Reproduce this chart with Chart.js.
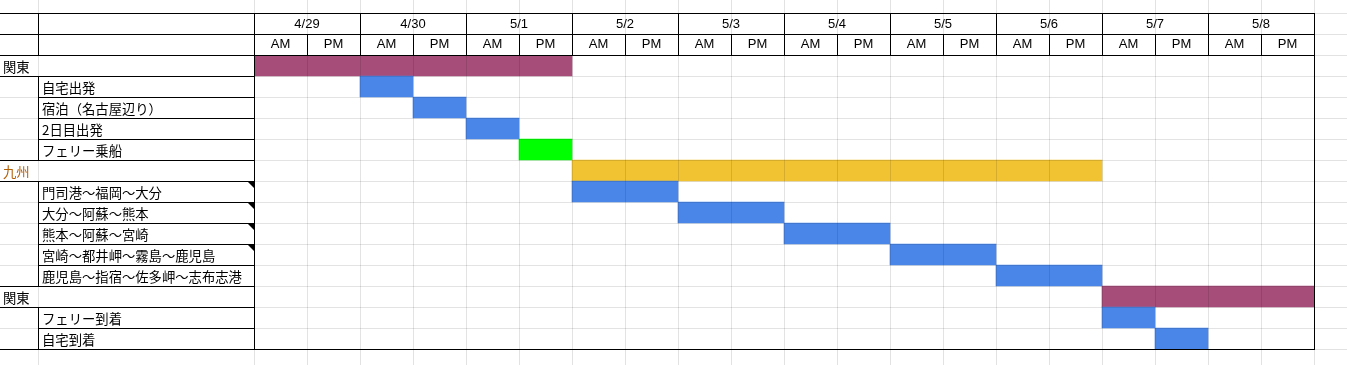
<!DOCTYPE html>
<html>
<head>
<meta charset="utf-8">
<script src="https://cdn.jsdelivr.net/npm/chart.js@4"></script>
<style>
  html, body { margin: 0; padding: 0; background: #fff; }
  #wrap { width: 1347px; height: 365px; position: relative; }
</style>
</head>
<body>
<div id="wrap"><canvas id="gantt"></canvas></div>
<script>
// 日付と午前/午後
const days   = ['4/29', '4/30', '5/1', '5/2', '5/3', '5/4', '5/5', '5/6', '5/7', '5/8'];
const halves = ['AM', 'PM'];

// 行ごとの地域・予定
const groups = ['関東', '', '', '', '', '九州', '', '', '', '', '', '関東', '', ''];
const tasks  = ['', '自宅出発', '宿泊（名古屋辺り）', '2日目出発', 'フェリー乗船', '',
                '門司港～福岡～大分', '大分～阿蘇～熊本', '熊本～阿蘇～宮崎', '宮崎～都井岬～霧島～鹿児島',
                '鹿児島～指宿～佐多岬～志布志港', '', 'フェリー到着', '自宅到着'];
const kinds  = ['kanto', 'task', 'task', 'task', 'ferry', 'kyushu',
                'task', 'task', 'task', 'task', 'task', 'kanto', 'task', 'task'];
// 半日単位 (0 = 4/29 AM)
const starts = [0, 2, 3, 4, 5, 6, 6, 8, 10, 12, 14, 16, 16, 17];
const ends   = [6, 3, 4, 5, 6, 16, 8, 10, 12, 14, 16, 20, 17, 18];
// コメント付きのセル
const notes  = [false, false, false, false, false, false, true, true, true, true, false, false, false, false];

const kindColor  = { kanto: '#a64d79', kyushu: '#f1c232', task: '#4a86e8', ferry: '#00ff00' };
const groupColor = { '九州': '#b45f06' };
const halfLabels = days.flatMap(() => halves);

const GRAY = '#e2e2e2';
const ROW_H = 21;
const COL_A = 38;

const sheetPlugin = {
    id: 'sheet',
    beforeDraw(chart) {
        const { ctx, width, height, chartArea: ca } = chart;
        const x = chart.scales.x;
        const cellW = x.getPixelForValue(1) - x.getPixelForValue(0);
        ctx.save();
        ctx.fillStyle = '#fff';
        ctx.fillRect(0, 0, width, height);
        ctx.fillStyle = GRAY;
        // 縦の目盛線
        const xs = [COL_A];
        for (let p = ca.left; p < width; p += cellW) xs.push(Math.round(p));
        xs.forEach(p => ctx.fillRect(p, 0, 1, height));
        // 横の目盛線
        for (let p = ca.top - ROW_H * 3; p < height; p += ROW_H) ctx.fillRect(0, Math.round(p), width, 1);
        // 表の中は Chart.js のグリッドに任せる
        ctx.fillStyle = '#fff';
        ctx.fillRect(ca.left, ca.top, ca.right - ca.left, ca.bottom - ca.top);
        ctx.restore();
    },
    afterDraw(chart) {
        const { ctx, chartArea: ca } = chart;
        const x = chart.scales.x, y = chart.scales.y;
        const L = Math.round(ca.left), R = Math.round(ca.right);
        const top = Math.round(ca.top), bot = Math.round(ca.bottom);
        const h1 = top - ROW_H * 2, h2 = top - ROW_H;
        ctx.save();
        ctx.fillStyle = '#000';
        const hl = (x1, x2, yy) => ctx.fillRect(x1, yy, x2 - x1 + 1, 1);
        const vl = (xx, y1, y2) => ctx.fillRect(xx, y1, 1, y2 - y1 + 1);
        // 見出し
        hl(0, R, h1); hl(0, R, h2); hl(0, R, top);
        vl(COL_A, h1, top); vl(L, h1, bot); vl(R, h1, bot);
        days.forEach((d, i) => {
            vl(Math.round(x.getPixelForValue(i * 2)), h1, top);
            vl(Math.round(x.getPixelForValue(i * 2 + 1)), h2, top);
        });
        // 左側の枠
        tasks.forEach((t, i) => {
            const yt = Math.round(y.getPixelForValue(i) - ROW_H / 2);
            if (groups[i]) {
                hl(0, L, yt); hl(0, L, yt + ROW_H);
            } else {
                hl(COL_A, L, yt); hl(COL_A, L, yt + ROW_H); vl(COL_A, yt, yt + ROW_H);
            }
            if (notes[i]) {
                ctx.beginPath();
                ctx.moveTo(L - 6, yt + 1);
                ctx.lineTo(L, yt + 1);
                ctx.lineTo(L, yt + 7);
                ctx.closePath();
                ctx.fill();
            }
        });
        hl(0, R, bot);
        ctx.restore();
    }
};

const jpFont = { family: "'Noto Sans CJK JP', sans-serif", size: 13.33 };
const enFont = { family: "'Liberation Sans', Arial, sans-serif", size: 13 };
const fixH = h => s => { s.height = h; };
const fixW = w => s => { s.width = w; };

new Chart(document.getElementById('gantt'), {
    type: 'bar',
    data: {
        labels: tasks,
        datasets: [{
            data: starts.map((s, i) => [s, ends[i]]),
            backgroundColor: kinds.map(k => kindColor[k]),
            borderWidth: 0,
            barPercentage: 1,
            categoryPercentage: 1
        }]
    },
    options: {
        indexAxis: 'y',
        responsive: true,
        maintainAspectRatio: false,
        animation: false,
        layout: { autoPadding: false, padding: { left: 3, top: 13, right: 33, bottom: 16 } },
        plugins: { legend: { display: false }, tooltip: { enabled: false } },
        scales: {
            x: {
                type: 'linear', position: 'bottom', min: 0, max: halfLabels.length,
                ticks: { display: false, stepSize: 1 },
                grid: { z: 1, color: 'rgba(0,0,0,0.11)', drawTicks: false },
                border: { display: false },
                afterFit: fixH(0)
            },
            xHalf: {
                type: 'category', position: 'top', labels: halfLabels, offset: true, weight: 0,
                grid: { display: false, drawTicks: false }, border: { display: false },
                ticks: { font: enFont, color: '#000', padding: 2.5, maxRotation: 0, autoSkip: false },
                afterFit: fixH(ROW_H)
            },
            xDate: {
                type: 'category', position: 'top', labels: days, offset: true, weight: 1,
                grid: { display: false, drawTicks: false }, border: { display: false },
                ticks: { font: enFont, color: '#000', padding: 2, maxRotation: 0, autoSkip: false },
                afterFit: fixH(ROW_H)
            },
            y: {
                type: 'category', position: 'left', offset: true, weight: 0,
                grid: { z: 1, color: 'rgba(0,0,0,0.11)', drawTicks: false, offset: true },
                border: { display: false },
                ticks: { font: jpFont, color: '#000', crossAlign: 'far', autoSkip: false, labelOffset: 1 },
                afterFit: fixW(212)
            },
            yCat: {
                type: 'category', position: 'left', labels: groups, offset: true, weight: 1,
                grid: { display: false, drawTicks: false }, border: { display: false },
                ticks: { font: jpFont, crossAlign: 'far', autoSkip: false, labelOffset: 1,
                         color: c => groupColor[groups[c.index]] || '#000' },
                afterFit: fixW(39)
            }
        }
    },
    plugins: [sheetPlugin]
});
</script>
</body>
</html>
